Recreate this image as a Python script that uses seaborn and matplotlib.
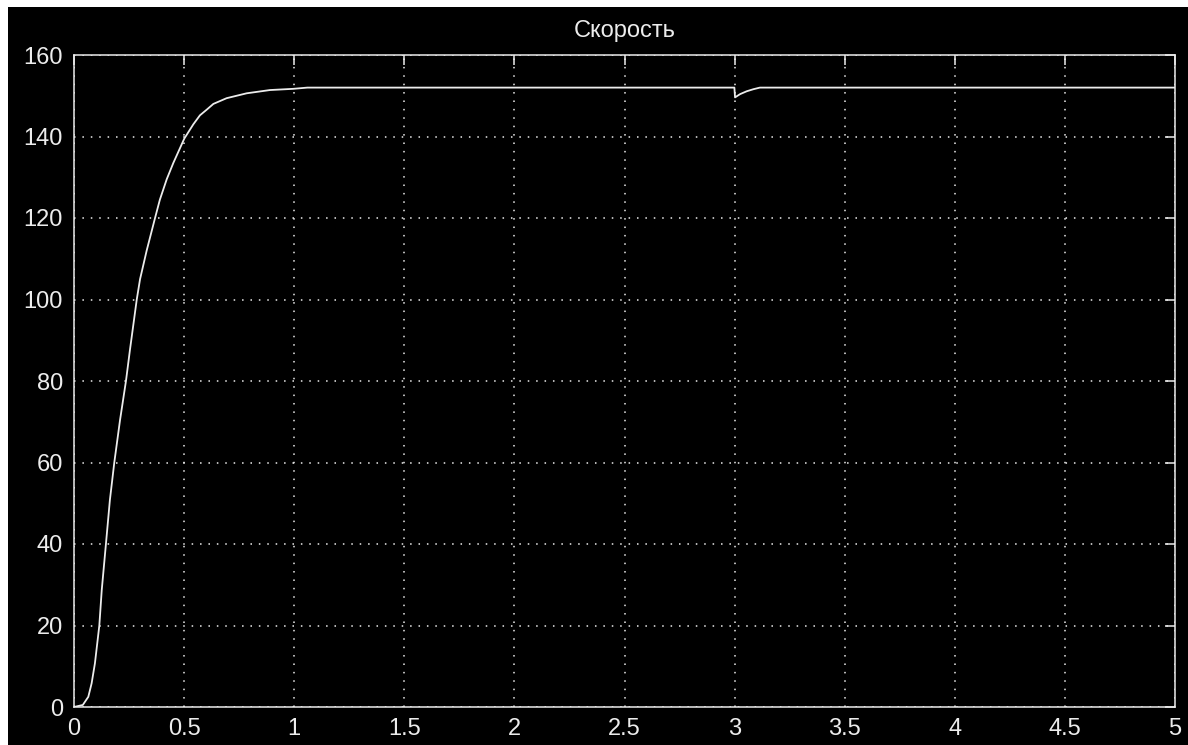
import matplotlib
matplotlib.use("Agg")
import matplotlib.pyplot as plt
import seaborn as sns
from matplotlib.patches import Rectangle

# Speed response of the drive (time in s, speed)
time_s = [0.0, 0.04, 0.065, 0.08, 0.095, 0.115, 0.126, 0.145, 0.163, 0.183,
          0.209, 0.236, 0.254, 0.285, 0.30, 0.33, 0.368, 0.39, 0.421, 0.451,
          0.501, 0.542, 0.572, 0.603, 0.633, 0.693, 0.784, 0.89, 0.996, 1.06,
          2.999, 3.002, 3.025, 3.055, 3.085, 3.115, 5.0]
speed = [0.0, 0.5, 2.5, 5.8, 10.7, 20.0, 28.7, 40.0, 50.8, 60.0,
         70.4, 80.0, 87.6, 100.0, 105.0, 112.0, 120.0, 124.5, 129.5, 133.5,
         139.5, 143.0, 145.2, 146.6, 148.0, 149.4, 150.6, 151.4, 151.7, 152.0,
         152.0, 149.6, 150.4, 151.1, 151.6, 152.0, 152.0]

x_ticks = [0, 0.5, 1, 1.5, 2, 2.5, 3, 3.5, 4, 4.5, 5]
x_tick_labels = ["0", "0.5", "1", "1.5", "2", "2.5", "3", "3.5", "4", "4.5", "5"]
y_ticks = [0, 20, 40, 60, 80, 100, 120, 140, 160]
y_tick_labels = ["0", "20", "40", "60", "80", "100", "120", "140", "160"]
title = "Скорость"

sns.set_theme(style="dark")
plt.rcParams["font.family"] = ["Liberation Sans", "DejaVu Sans"]

fg = "#ececec"
fig = plt.figure(figsize=(11.88, 7.45), dpi=100, facecolor="white")
# dark backdrop of the scope window
fig.patches.append(Rectangle((8 / 1188, 0), 1 - 8 / 1188, (745 - 7) / 745,
                             transform=fig.transFigure, facecolor="black",
                             edgecolor="none", zorder=-10))

ax = fig.add_axes([74 / 1188, 1 - 707 / 745, (1175 - 74) / 1188, (707 - 55) / 745])
ax.set_facecolor("black")

sns.lineplot(x=time_s, y=speed, ax=ax, color=fg, linewidth=1.3,
             estimator=None, zorder=3)

ax.set_xlim(0, 5)
ax.set_ylim(0, 160)
ax.set_xticks(x_ticks)
ax.set_xticklabels(x_tick_labels)
ax.set_yticks(y_ticks)
ax.set_yticklabels(y_tick_labels)

ax.grid(True, color=fg, linestyle=(0, (1, 4.5)), linewidth=1.1)
ax.tick_params(axis="both", which="both", direction="in", length=7, width=1.1,
               color=fg, labelcolor=fg, labelsize=17, top=True, right=True)
ax.tick_params(axis="x", pad=8)
ax.tick_params(axis="y", pad=8)
for sp in ax.spines.values():
    sp.set_visible(True)
    sp.set_color(fg)
    sp.set_linewidth(1.1)

ax.set_title(title, color=fg, fontsize=17, pad=13)

fig.savefig("out.png", dpi=100, facecolor=fig.get_facecolor())
